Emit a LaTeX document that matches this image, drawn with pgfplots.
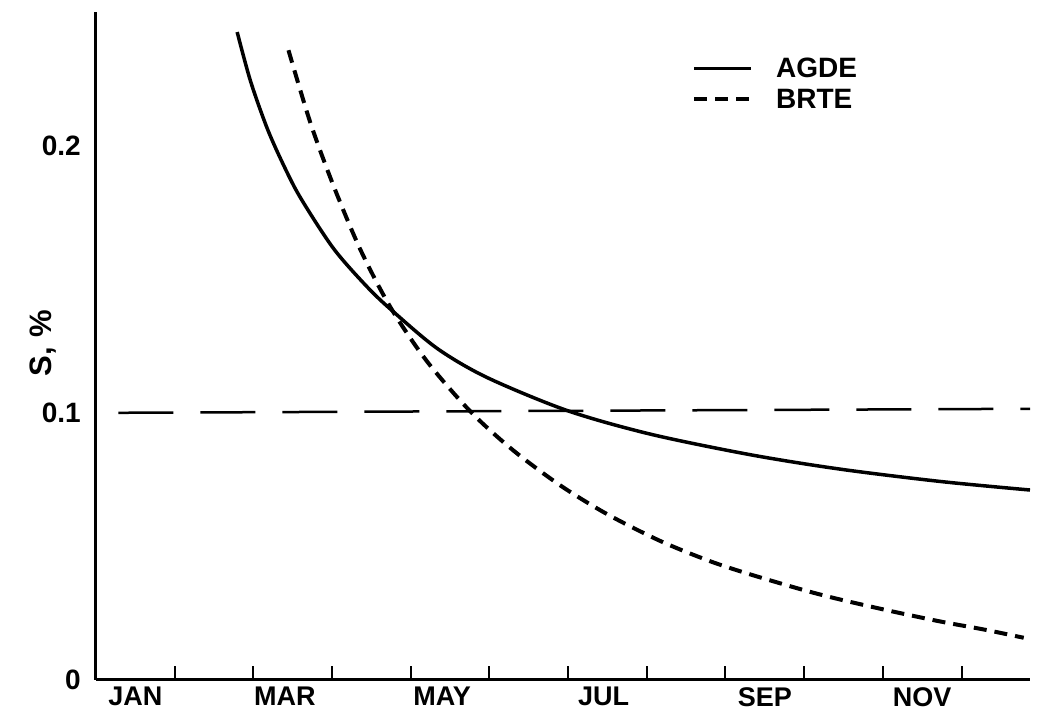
\documentclass[border=0pt]{standalone}
\usepackage{fontspec}
\setmainfont{Liberation Sans}
\usepackage{pgfplots}
\pgfplotsset{compat=1.18}
\begin{document}
\begin{tikzpicture}[x=1pt,y=1pt]
\path[use as bounding box] (0,0) rectangle (1037,712);
\begin{axis}[
  at={(96pt,32pt)}, anchor=south west,
  scale only axis, width=934pt, height=668pt,
  xmin=0, xmax=11.87, ymin=0, ymax=0.25,
  axis lines=left, axis line style={-, line width=3pt},
  tick align=inside,
  every tick/.style={black, line width=2pt},
  xtick={1,2,3,4,5,6,7,8,9,10,11}, xticklabels={},
  major tick length=14pt,
  extra x ticks={0.5,2.4,4.4,6.45,8.5,10.5},
  extra x tick labels={JAN,MAR,MAY,JUL,SEP,NOV},
  extra x tick style={major tick length=0pt},
  ytick=\empty,
  minor ytick={0.05,0.1,0.15,0.2,0.25},
  minor tick length=9pt,
  extra y ticks={0,0.1,0.2},
  extra y tick labels={0,0.1,0.2},
  extra y tick style={major tick length=0pt},
  xticklabel style={font=\bfseries\fontsize{27}{29}\selectfont, inner sep=0pt, anchor=north, yshift=-7pt},
  yticklabel style={font=\bfseries\fontsize{28}{30}\selectfont, inner sep=0pt, anchor=east, xshift=-15pt},
  ylabel={S,\hspace{9pt}\%},
  ylabel style={font=\bfseries\fontsize{31}{33}\selectfont, at={(axis description cs:-0.057,0.504)}, anchor=center},
  legend image code/.code={\draw[#1] (0pt,0pt) -- (57pt,0pt);},
  legend style={at={(axis description cs:0.638,0.936)}, anchor=north west, draw=none, fill=none,
    font=\bfseries\fontsize{28}{30}\selectfont, inner sep=0pt, row sep=4pt,
    nodes={inner sep=3pt}, cells={anchor=west},
    /tikz/every odd column/.append style={column sep=20pt}},
]
\addplot[black, line width=3.5pt, smooth] coordinates {
(1.794,0.2425) (1.963,0.2242) (2.175,0.2065) (2.382,0.1928) (2.598,0.1805)
(3.018,0.1615) (3.450,0.1470) (3.780,0.1378) (4.340,0.1240) (4.970,0.1132)
(5.992,0.1008) (7.047,0.0920) (8.317,0.0843) (9.460,0.0789) (10.73,0.0743) (11.87,0.0711)
};
\addlegendentry{AGDE}
\addplot[black, line width=4pt, dash pattern=on 13pt off 8pt, smooth] coordinates {
(2.446,0.2357) (2.725,0.2085) (3.018,0.1850) (3.361,0.1610) (3.742,0.1395)
(4.200,0.1195) (4.758,0.1005) (5.300,0.0860) (5.902,0.0728) (6.500,0.0620)
(7.173,0.0520) (7.800,0.0445) (8.317,0.0395) (9.000,0.0336) (9.460,0.0301)
(10.10,0.0258) (10.73,0.0219) (11.30,0.0188) (11.79,0.0158)
};
\addlegendentry{BRTE}
\addplot[black, line width=2.5pt, dash pattern=on 55pt off 27pt, forget plot] coordinates {
(0.285,0.1) (11.87,0.1015)
};
\end{axis}
\end{tikzpicture}
\end{document}
